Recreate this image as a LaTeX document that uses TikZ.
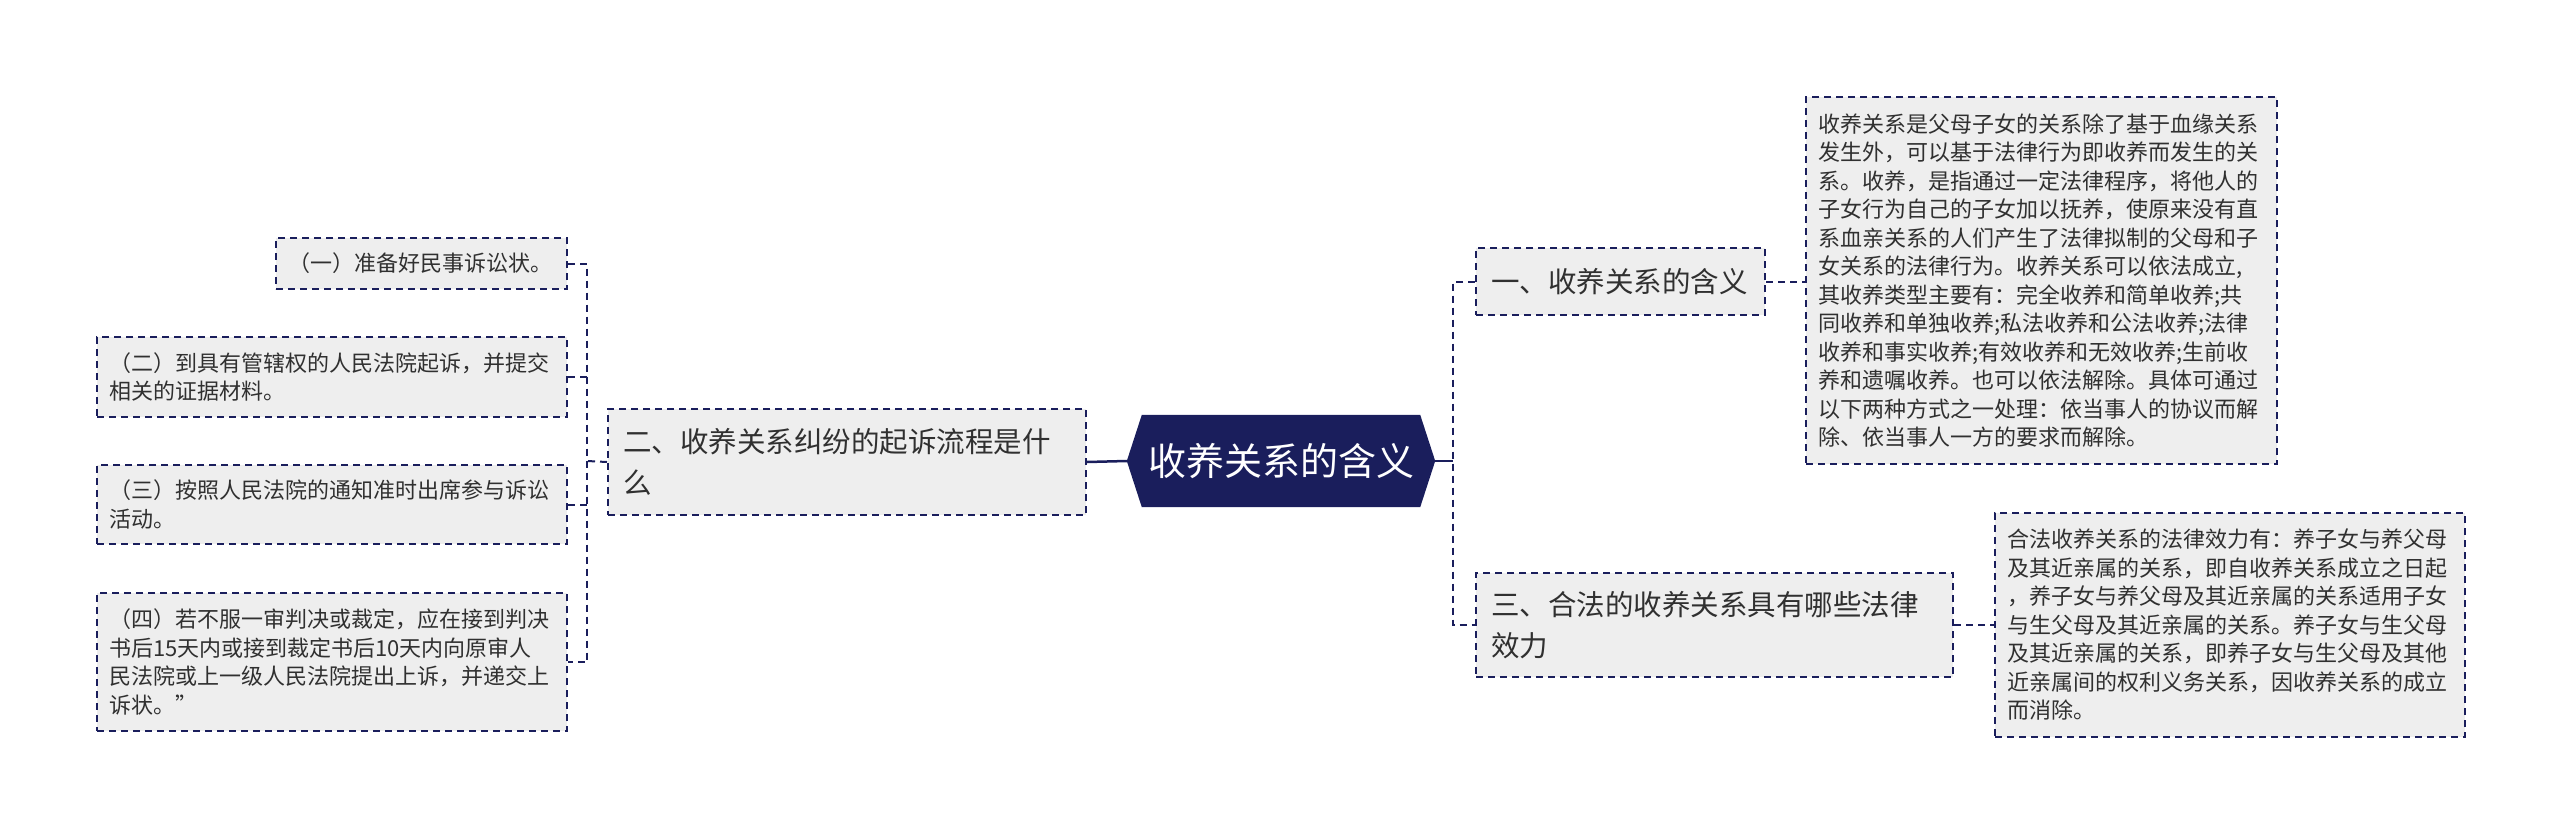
\documentclass[tikz,border=0pt]{standalone}
\usepackage{fontspec}
\setmainfont{Noto Sans CJK SC}
\usetikzlibrary{backgrounds}
\definecolor{navy}{HTML}{1A1E5C}
\definecolor{boxfill}{HTML}{EEEEEE}
\definecolor{txt}{HTML}{303030}
\tikzset{
  box/.style={draw=navy, fill=boxfill, line width=2pt, dash pattern=on 7pt off 5pt,
    anchor=north west, inner ysep=0pt, text=txt, align=left},
  leaf/.style={box, inner xsep=12pt, font=\fontsize{22}{28.5}\selectfont},
  branch/.style={box, inner xsep=15pt, font=\fontsize{28.5}{41}\selectfont},
  conn/.style={draw=navy, line width=2pt, dash pattern=on 7pt off 5pt},
  solidconn/.style={draw=navy, line width=2.5pt},
}
\begin{document}
\begin{tikzpicture}[x=1pt,y=-1pt]
\useasboundingbox (0,0) rectangle (2560,832);
% center
\node (c) [minimum width=308pt, minimum height=92pt, inner sep=0pt, text=white,
  font=\fontsize{38}{44}\selectfont] at (1281,461) {收养关系的含义};
\begin{scope}[on background layer]
\fill[navy] (c.west) -- ([xshift=15pt]c.north west) -- ([xshift=-15pt]c.north east)
  -- (c.east) -- ([xshift=-15pt]c.south east) -- ([xshift=15pt]c.south west) -- cycle;
\end{scope}
% left side
\node (b2) [branch, minimum width=478pt, minimum height=106pt, text width=448pt] at (607,408)
  {二、收养关系纠纷的起诉流程是什\\么};
\node (l1) [leaf, minimum width=291pt, minimum height=51pt, text width=267pt] at (275,237)
  {（一）准备好民事诉讼状。};
\node (l2) [leaf, minimum width=470pt, minimum height=80pt, text width=446pt] at (96,336)
  {（二）到具有管辖权的人民法院起诉，并提交\\相关的证据材料。};
\node (l3) [leaf, minimum width=470pt, minimum height=79pt, text width=446pt] at (96,464)
  {（三）按照人民法院的通知准时出席参与诉讼\\活动。};
\node (l4) [leaf, minimum width=470pt, minimum height=138pt, text width=446pt] at (96,592)
  {（四）若不服一审判决或裁定，应在接到判决\\书后15天内或接到裁定书后10天内向原审人\\民法院或上一级人民法院提出上诉，并递交上\\诉状。”};
% right side
\node (b1) [branch, minimum width=289pt, minimum height=67pt, text width=259pt] at (1475,247)
  {一、收养关系的含义};
\node (b3) [branch, minimum width=477pt, minimum height=104pt, text width=447pt] at (1475,572)
  {三、合法的收养关系具有哪些法律\\效力};
\node (r1) [leaf, minimum width=471pt, minimum height=367pt, text width=447pt] at (1805,96)
  {收养关系是父母子女的关系除了基于血缘关系\\发生外，可以基于法律行为即收养而发生的关\\系。收养，是指通过一定法律程序，将他人的\\子女行为自己的子女加以抚养，使原来没有直\\系血亲关系的人们产生了法律拟制的父母和子\\女关系的法律行为。收养关系可以依法成立,\\其收养类型主要有：完全收养和简单收养;共\\同收养和单独收养;私法收养和公法收养;法律\\收养和事实收养;有效收养和无效收养;生前收\\养和遗嘱收养。也可以依法解除。具体可通过\\以下两种方式之一处理：依当事人的协议而解\\除、依当事人一方的要求而解除。};
\node (r3) [leaf, minimum width=470pt, minimum height=224pt, text width=446pt] at (1994,512)
  {合法收养关系的法律效力有：养子女与养父母\\及其近亲属的关系，即自收养关系成立之日起\\，养子女与养父母及其近亲属的关系适用子女\\与生父母及其近亲属的关系。养子女与生父母\\及其近亲属的关系，即养子女与生父母及其他\\近亲属间的权利义务关系，因收养关系的成立\\而消除。};
% connectors
\coordinate (lj) at (587,461);
\coordinate (rj) at (1453,461);
\draw[solidconn] (c.west) -- (b2.east);
\draw[conn] (b2.west) -- (lj);
\draw[conn] (l1.east) -| (lj) |- (l4.east);
\draw[conn] (l2.east) -- (l2.east -| lj);
\draw[conn] (l3.east) -- (l3.east -| lj);
\draw[solidconn] (c.east) -- (rj);
\draw[conn] (b1.west) -| (rj) |- (b3.west);
\draw[conn] (b1.east) -- (b1.east -| r1.west);
\draw[conn] (b3.east) -- (b3.east -| r3.west);
\end{tikzpicture}
\end{document}
